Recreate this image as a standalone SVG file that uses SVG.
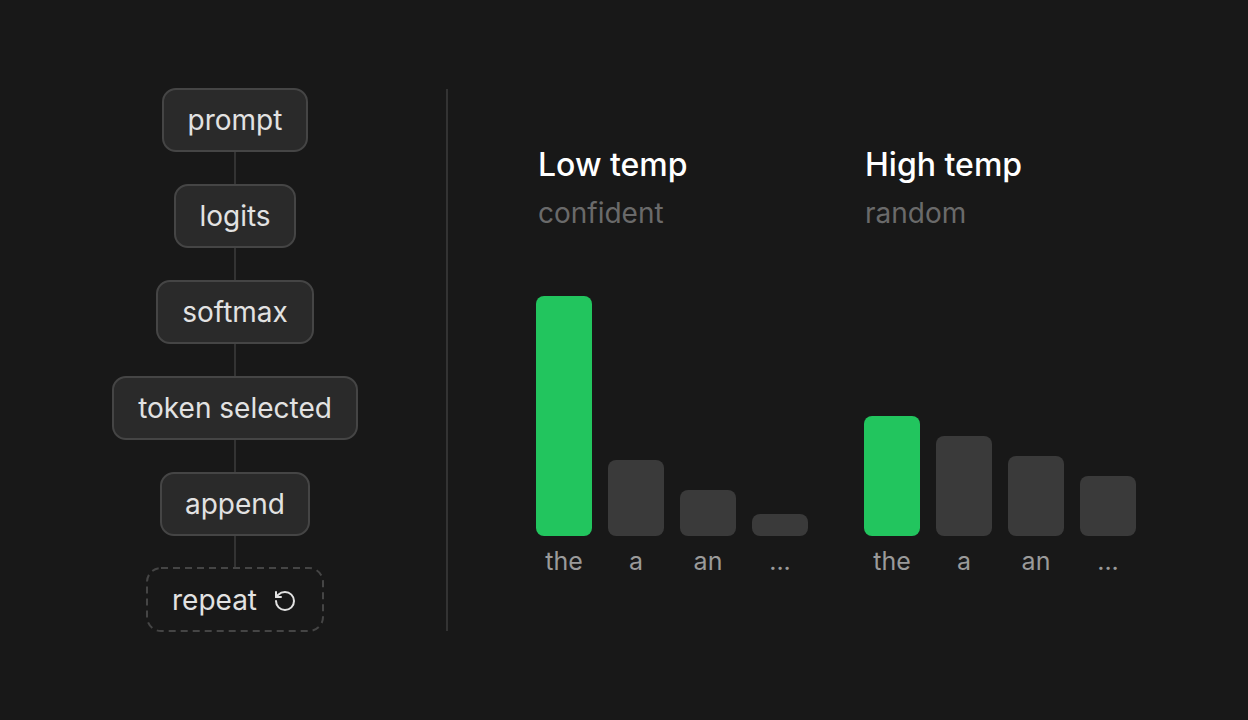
<svg xmlns="http://www.w3.org/2000/svg" width="1248" height="720" viewBox="0 0 1248 720">
<style>
.node rect{fill:#2a2a2a;stroke:#454545;stroke-width:2}
.node text{font-family:Inter,"Noto Sans",sans-serif;font-size:28px;fill:#e2e2e2;text-anchor:middle}
.conn line{stroke:#333;stroke-width:2}
.title{font-family:Inter,"Noto Sans",sans-serif;font-size:32px;font-weight:500;fill:#fff}
.sub{font-family:Inter,"Noto Sans",sans-serif;font-size:28px;fill:#6a6a6a}
.lbl{font-family:Inter,"Noto Sans",sans-serif;font-size:25px;fill:#9a9a9a;text-anchor:middle}
.bar{fill:#3a3a3a}
.hot{fill:#22c55e}
</style>
<rect width="1248" height="720" fill="#181818"/>
<g class="conn">
<line x1="235" y1="151" x2="235" y2="185"/>
<line x1="235" y1="247" x2="235" y2="281"/>
<line x1="235" y1="343" x2="235" y2="377"/>
<line x1="235" y1="439" x2="235" y2="473"/>
<line x1="235" y1="535" x2="235" y2="568"/>
</g>
<g id="prompt" class="node"><rect x="163" y="89" width="144" height="62" rx="13"/><text x="235" y="130">prompt</text></g>
<g id="logits" class="node"><rect x="175" y="185" width="120" height="62" rx="13"/><text x="235" y="226">logits</text></g>
<g id="softmax" class="node"><rect x="157" y="281" width="156" height="62" rx="13"/><text x="235" y="322">softmax</text></g>
<g id="token-selected" class="node"><rect x="113" y="377" width="244" height="62" rx="13"/><text x="235" y="418">token selected</text></g>
<g id="append" class="node"><rect x="161" y="473" width="148" height="62" rx="13"/><text x="235" y="514">append</text></g>
<g id="repeat" class="node"><rect x="147" y="568" width="176" height="63" rx="14" style="fill:#181818;stroke-dasharray:7 5"/><text x="214.5" y="610">repeat</text>
<g transform="translate(273,589)" fill="none" stroke="#e2e2e2" stroke-width="2" stroke-linecap="round" stroke-linejoin="round"><path d="M3 12a9 9 0 1 0 9-9 9.75 9.75 0 0 0-6.74 2.74L3 8"/><path d="M3 3v5h5"/></g>
</g>
<line x1="447" y1="89" x2="447" y2="631" stroke="#333" stroke-width="2"/>
<g id="low-temp">
<text class="title" x="538" y="176">Low temp</text>
<text class="sub" x="538" y="223">confident</text>
<rect class="hot" x="536" y="296" width="56" height="240" rx="8"/>
<rect class="bar" x="608" y="460" width="56" height="76" rx="8"/>
<rect class="bar" x="680" y="490" width="56" height="46" rx="8"/>
<rect class="bar" x="752" y="514" width="56" height="22" rx="8"/>
<text class="lbl" x="564" y="570">the</text>
<text class="lbl" x="636" y="570">a</text>
<text class="lbl" x="708" y="570">an</text>
<text class="lbl" x="780" y="570">...</text>
</g>
<g id="high-temp">
<text class="title" x="865" y="176">High temp</text>
<text class="sub" x="865" y="223">random</text>
<rect class="hot" x="864" y="416" width="56" height="120" rx="8"/>
<rect class="bar" x="936" y="436" width="56" height="100" rx="8"/>
<rect class="bar" x="1008" y="456" width="56" height="80" rx="8"/>
<rect class="bar" x="1080" y="476" width="56" height="60" rx="8"/>
<text class="lbl" x="892" y="570">the</text>
<text class="lbl" x="964" y="570">a</text>
<text class="lbl" x="1036" y="570">an</text>
<text class="lbl" x="1108" y="570">...</text>
</g>
</svg>
